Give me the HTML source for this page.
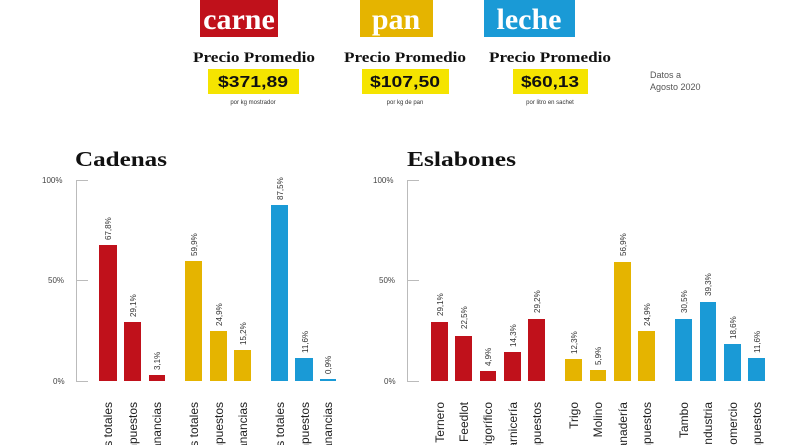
<!DOCTYPE html>
<html><head><meta charset="utf-8"><style>
html,body{margin:0;padding:0;background:#fff;width:800px;height:445px;overflow:hidden}
svg{display:block}
</style></head><body>
<svg width="800" height="445" viewBox="0 0 800 445" xmlns="http://www.w3.org/2000/svg" font-family="Liberation Sans, sans-serif">
<rect x="200" y="0" width="78" height="37" fill="#c0111b"/>
<text x="239" y="29" text-anchor="middle" font-family="Liberation Serif, serif" font-weight="bold" font-size="30" fill="#fff">carne</text>
<rect x="360" y="0" width="73" height="37" fill="#e5b400"/>
<text x="396" y="29" text-anchor="middle" font-family="Liberation Serif, serif" font-weight="bold" font-size="30" fill="#fff">pan</text>
<rect x="484" y="0" width="91" height="37" fill="#1a9ad6"/>
<text x="529" y="29" text-anchor="middle" font-family="Liberation Serif, serif" font-weight="bold" font-size="30" fill="#fff">leche</text>
<g font-family="Liberation Serif, serif" font-weight="bold" font-size="15" fill="#111" text-anchor="middle">
<text x="254" y="62" textLength="122" lengthAdjust="spacingAndGlyphs">Precio Promedio</text>
<text x="405" y="62" textLength="122" lengthAdjust="spacingAndGlyphs">Precio Promedio</text>
<text x="550" y="62" textLength="122" lengthAdjust="spacingAndGlyphs">Precio Promedio</text>
</g>
<rect x="208" y="69" width="91" height="25" fill="#f5e400"/>
<rect x="362" y="69" width="87" height="25" fill="#f5e400"/>
<rect x="513" y="69" width="75" height="25" fill="#f5e400"/>
<g font-weight="bold" font-size="16" fill="#111" text-anchor="middle">
<text x="253" y="87" textLength="70" lengthAdjust="spacingAndGlyphs">$371,89</text>
<text x="405" y="87" textLength="70" lengthAdjust="spacingAndGlyphs">$107,50</text>
<text x="550" y="87" textLength="58" lengthAdjust="spacingAndGlyphs">$60,13</text>
</g>
<g font-size="6" fill="#333" text-anchor="middle">
<text x="253" y="104">por kg mostrador</text>
<text x="405" y="104">por kg de pan</text>
<text x="550" y="104">por litro en sachet</text>
</g>
<text x="650" y="78" font-size="9" fill="#555">Datos a</text>
<text x="650" y="90" font-size="9" fill="#555">Agosto 2020</text>

<text x="75" y="166" font-family="Liberation Serif, serif" font-weight="bold" font-size="21" fill="#111" textLength="92" lengthAdjust="spacingAndGlyphs">Cadenas</text>
<text x="407" y="166" font-family="Liberation Serif, serif" font-weight="bold" font-size="21" fill="#111" textLength="109" lengthAdjust="spacingAndGlyphs">Eslabones</text>

<g stroke="#bbb" stroke-width="1" fill="none">
<path d="M76.5 180 V381 M76 180.5 H88 M76 280.5 H88 M76 381.5 H88"/>
<path d="M407.5 180 V381 M407 180.5 H419 M407 280.5 H419 M407 381.5 H419"/>
</g>
<g font-size="8" fill="#444">
<text x="42" y="183">100%</text><text x="48" y="283">50%</text><text x="53" y="384">0%</text>
<text x="373" y="183">100%</text><text x="379" y="283">50%</text><text x="384" y="384">0%</text>
</g>

<g>
<rect x="99" y="245" width="18" height="136" fill="#c0111b"/>
<rect x="124" y="322" width="17" height="59" fill="#c0111b"/>
<rect x="149" y="375" width="16" height="6" fill="#c0111b"/>
<rect x="185" y="261" width="17" height="120" fill="#e5b400"/>
<rect x="210" y="331" width="17" height="50" fill="#e5b400"/>
<rect x="234" y="350" width="17" height="31" fill="#e5b400"/>
<rect x="271" y="205" width="17" height="176" fill="#1a9ad6"/>
<rect x="295" y="358" width="18" height="23" fill="#1a9ad6"/>
<rect x="320" y="379" width="16" height="2" fill="#1a9ad6"/>
</g>
<g font-size="8" fill="#333">
<text transform="translate(111,240) rotate(-90)">67,8%</text>
<text transform="translate(136,317) rotate(-90)">29,1%</text>
<text transform="translate(160,370) rotate(-90)">3,1%</text>
<text transform="translate(197,256) rotate(-90)">59,9%</text>
<text transform="translate(222,326) rotate(-90)">24,9%</text>
<text transform="translate(246,345) rotate(-90)">15,2%</text>
<text transform="translate(283,200) rotate(-90)">87,5%</text>
<text transform="translate(308,353) rotate(-90)">11,6%</text>
<text transform="translate(331,374) rotate(-90)">0,9%</text>
</g>
<g font-size="12" fill="#222" text-anchor="end">
<text transform="translate(112,402) rotate(-90)">Costos totales</text>
<text transform="translate(137,402) rotate(-90)">Impuestos</text>
<text transform="translate(161,402) rotate(-90)">Ganancias</text>
<text transform="translate(198,402) rotate(-90)">Costos totales</text>
<text transform="translate(223,402) rotate(-90)">Impuestos</text>
<text transform="translate(247,402) rotate(-90)">Ganancias</text>
<text transform="translate(284,402) rotate(-90)">Costos totales</text>
<text transform="translate(309,402) rotate(-90)">Impuestos</text>
<text transform="translate(332,402) rotate(-90)">Ganancias</text>
</g>

<g>
<rect x="431" y="322" width="17" height="59" fill="#c0111b"/>
<rect x="455" y="336" width="17" height="45" fill="#c0111b"/>
<rect x="480" y="371" width="16" height="10" fill="#c0111b"/>
<rect x="504" y="352" width="17" height="29" fill="#c0111b"/>
<rect x="528" y="319" width="17" height="62" fill="#c0111b"/>
<rect x="565" y="359" width="17" height="22" fill="#e5b400"/>
<rect x="590" y="370" width="16" height="11" fill="#e5b400"/>
<rect x="614" y="262" width="17" height="119" fill="#e5b400"/>
<rect x="638" y="331" width="17" height="50" fill="#e5b400"/>
<rect x="675" y="319" width="17" height="62" fill="#1a9ad6"/>
<rect x="700" y="302" width="16" height="79" fill="#1a9ad6"/>
<rect x="724" y="344" width="17" height="37" fill="#1a9ad6"/>
<rect x="748" y="358" width="17" height="23" fill="#1a9ad6"/>
</g>
<g font-size="8" fill="#333">
<text transform="translate(443,316) rotate(-90)">29,1%</text>
<text transform="translate(467,329) rotate(-90)">22,5%</text>
<text transform="translate(491,366) rotate(-90)">4,9%</text>
<text transform="translate(516,347) rotate(-90)">14,3%</text>
<text transform="translate(540,313) rotate(-90)">29,2%</text>
<text transform="translate(577,354) rotate(-90)">12,3%</text>
<text transform="translate(601,365) rotate(-90)">5,9%</text>
<text transform="translate(626,256) rotate(-90)">56,9%</text>
<text transform="translate(650,326) rotate(-90)">24,9%</text>
<text transform="translate(687,313) rotate(-90)">30,5%</text>
<text transform="translate(711,296) rotate(-90)">39,3%</text>
<text transform="translate(736,339) rotate(-90)">18,6%</text>
<text transform="translate(760,353) rotate(-90)">11,6%</text>
</g>
<g font-size="12" fill="#222" text-anchor="end">
<text transform="translate(444,402) rotate(-90)">Ternero</text>
<text transform="translate(468,402) rotate(-90)">Feedlot</text>
<text transform="translate(492,402) rotate(-90)">Frigorífico</text>
<text transform="translate(517,402) rotate(-90)">Carnicería</text>
<text transform="translate(541,402) rotate(-90)">Impuestos</text>
<text transform="translate(578,402) rotate(-90)">Trigo</text>
<text transform="translate(602,402) rotate(-90)">Molino</text>
<text transform="translate(627,402) rotate(-90)">Panadería</text>
<text transform="translate(651,402) rotate(-90)">Impuestos</text>
<text transform="translate(688,402) rotate(-90)">Tambo</text>
<text transform="translate(712,402) rotate(-90)">Industria</text>
<text transform="translate(737,402) rotate(-90)">Comercio</text>
<text transform="translate(761,402) rotate(-90)">Impuestos</text>
</g>
</svg>
</body></html>
